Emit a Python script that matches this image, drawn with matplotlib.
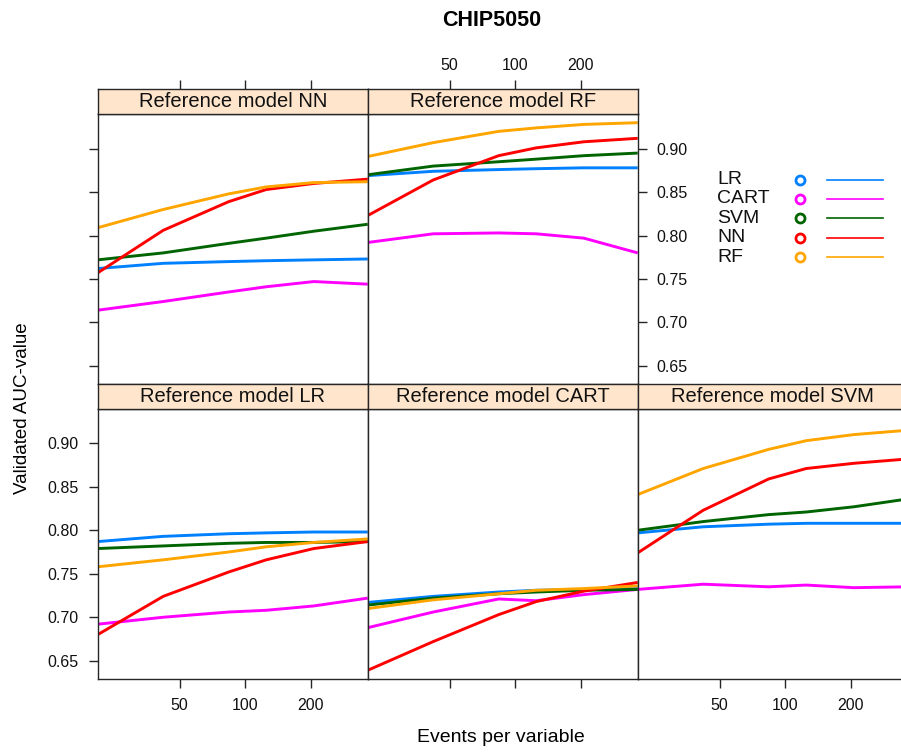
import matplotlib.pyplot as plt
import matplotlib.ticker as mticker

plt.rcParams['font.family'] = ['Liberation Sans', 'DejaVu Sans']

# events per variable (x positions of the curve vertices)
epv = [21, 42, 84, 125, 207, 366]
xticks = [50, 100, 200]
yticks = [0.65, 0.70, 0.75, 0.80, 0.85, 0.90]

methods = ['LR', 'CART', 'SVM', 'NN', 'RF']
colors = ['#0080ff', '#ff00ff', '#006400', '#ff0000', '#ffa500']

# validated AUC, one dict per reference model, one list per fitted method
ref_nn = {
    'LR':   [0.762, 0.768, 0.770, 0.771, 0.772, 0.773],
    'CART': [0.714, 0.724, 0.735, 0.741, 0.747, 0.744],
    'SVM':  [0.772, 0.780, 0.791, 0.797, 0.805, 0.813],
    'NN':   [0.757, 0.806, 0.839, 0.853, 0.860, 0.865],
    'RF':   [0.809, 0.830, 0.848, 0.856, 0.861, 0.862],
}
ref_rf = {
    'LR':   [0.869, 0.874, 0.876, 0.877, 0.878, 0.878],
    'CART': [0.792, 0.802, 0.803, 0.802, 0.797, 0.780],
    'SVM':  [0.870, 0.880, 0.885, 0.888, 0.892, 0.895],
    'NN':   [0.823, 0.864, 0.892, 0.901, 0.908, 0.912],
    'RF':   [0.891, 0.907, 0.920, 0.924, 0.928, 0.930],
}
ref_lr = {
    'LR':   [0.787, 0.793, 0.796, 0.797, 0.798, 0.798],
    'CART': [0.692, 0.700, 0.706, 0.708, 0.713, 0.722],
    'SVM':  [0.779, 0.782, 0.785, 0.786, 0.786, 0.787],
    'NN':   [0.680, 0.724, 0.752, 0.766, 0.779, 0.787],
    'RF':   [0.758, 0.766, 0.775, 0.781, 0.786, 0.790],
}
ref_cart = {
    'LR':   [0.717, 0.724, 0.729, 0.731, 0.732, 0.733],
    'CART': [0.688, 0.706, 0.721, 0.719, 0.726, 0.732],
    'SVM':  [0.714, 0.722, 0.727, 0.729, 0.731, 0.732],
    'NN':   [0.639, 0.672, 0.703, 0.718, 0.730, 0.740],
    'RF':   [0.710, 0.720, 0.727, 0.731, 0.733, 0.736],
}
ref_svm = {
    'LR':   [0.797, 0.804, 0.807, 0.808, 0.808, 0.808],
    'CART': [0.732, 0.738, 0.735, 0.737, 0.734, 0.735],
    'SVM':  [0.800, 0.810, 0.818, 0.821, 0.827, 0.836],
    'NN':   [0.774, 0.823, 0.859, 0.871, 0.877, 0.882],
    'RF':   [0.841, 0.871, 0.893, 0.903, 0.910, 0.915],
}

W, H = 901, 753
fig = plt.figure(figsize=(W / 100, H / 100), dpi=100)


def px_axes(x, y, w, h):
    return fig.add_axes([x / W, 1 - (y + h) / H, w / W, h / H])


col_left = [97.7, 367.7, 637.7]
pw = 270
rows = {0: (89, 25, 114, 270), 1: (384, 24.5, 408.5, 270.5)}

# name, data, col, row, ticks: left/right/bottom/top (None, 'tick', 'label')
# (the SVM panel's right axis falls outside the picture, so it is left out)
panels = [
    ('NN', ref_nn, 0, 0, dict(left='tick', top='tick')),
    ('RF', ref_rf, 1, 0, dict(right='label', top='label')),
    ('LR', ref_lr, 0, 1, dict(left='label', bottom='label')),
    ('CART', ref_cart, 1, 1, dict(bottom='tick')),
    ('SVM', ref_svm, 2, 1, dict(bottom='label')),
]

frame_col = '#262626'
tick_kw = dict(length=6.5, width=1, color=frame_col, labelsize=11.5, pad=7,
               labelcolor='#111111')


def style_x(ax):
    ax.set_xscale('log')
    ax.set_xlim(epv[0], epv[-1])
    ax.xaxis.set_major_locator(mticker.FixedLocator(xticks))
    ax.xaxis.set_major_formatter(mticker.FixedFormatter([str(t) for t in xticks]))
    ax.xaxis.set_minor_locator(mticker.NullLocator())


for name, data, c, r, tk in panels:
    sy, sh, dy, dh = rows[r]
    x0 = col_left[c]

    ax = px_axes(x0, dy, pw, dh)
    for m, col in zip(methods, colors):
        ax.plot(epv, data[m], color=col, lw=2.1, solid_capstyle='butt')
    style_x(ax)
    ax.set_ylim(0.629, 0.940)
    ax.set_yticks(yticks)
    ax.yaxis.set_major_formatter(mticker.FormatStrFormatter('%.2f'))
    for s in ax.spines.values():
        s.set_color(frame_col)
        s.set_linewidth(1)
    ax.tick_params(axis='both', which='both', direction='out', **tick_kw)
    ax.tick_params(left=tk.get('left') is not None, labelleft=tk.get('left') == 'label',
                   right=tk.get('right') is not None, labelright=tk.get('right') == 'label',
                   bottom=tk.get('bottom') is not None, labelbottom=tk.get('bottom') == 'label',
                   top=False, labeltop=False)

    sax = px_axes(x0, sy, pw, sh)
    sax.set_facecolor('#ffe5cc')
    style_x(sax)
    sax.set_yticks([])
    for s in sax.spines.values():
        s.set_color(frame_col)
        s.set_linewidth(1)
    sax.tick_params(axis='x', direction='out', **tick_kw)
    sax.tick_params(axis='x', bottom=False, labelbottom=False, pad=5,
                    top=tk.get('top') is not None, labeltop=tk.get('top') == 'label')
    sax.text(0.5, 0.5, f'Reference model {name}', transform=sax.transAxes,
             ha='center', va='center', fontsize=14.5, color='#111111')

# legend in the empty top-right cell
lax = fig.add_axes([0, 0, 1, 1])
lax.set_xlim(0, W)
lax.set_ylim(H, 0)
lax.axis('off')
for i, (m, col) in enumerate(zip(methods, colors)):
    y = 179.5 + i * 19.4
    lax.text(717, y, m, ha='left', va='center', fontsize=14, color='#111111')
    lax.plot([799.5], [y], marker='o', ms=6.5, mfc='none', mec=col, mew=2)
    lax.plot([827, 883], [y, y], color=col, lw=1.2)

fig.text(491.5 / W, 1 - 20.5 / H, 'CHIP5050', ha='center', va='center',
         fontsize=15.5, fontweight='bold')
fig.text(501 / W, 1 - 738 / H, 'Events per variable', ha='center', va='center',
         fontsize=14)
fig.text(23 / W, 1 - 408 / H, 'Validated AUC-value', ha='center', va='center',
         rotation=90, fontsize=13.5)

fig.savefig('out.png', dpi=100)
